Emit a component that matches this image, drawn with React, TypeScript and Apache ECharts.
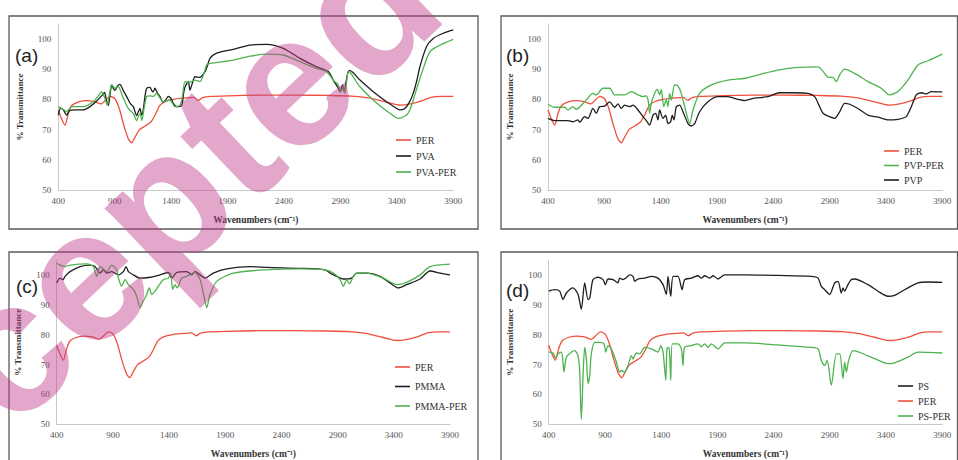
import React, { useEffect, useRef } from "react";
import * as echarts from "echarts";

type Pt = [number, number];

// Shared PER spectrum (same in all panels)
const perSpectrum: Pt[] = [[400,76.5],[430,73.5],[459,71.5],[490,75.5],[520,78],[580,79.2],[650,79.6],[720,79.3],[780,78.5],[820,79.8],[860,81],[900,80.3],[940,77],[980,71.5],[1020,67],[1050,65.6],[1080,67.5],[1120,70],[1170,71.2],[1220,72.5],[1260,75],[1300,78],[1350,79.3],[1420,80],[1500,80.4],[1600,80.7],[1640,79.7],[1680,80.6],[1750,81],[1900,81.2],[2200,81.4],[2500,81.4],[2800,81.3],[3000,81.1],[3150,80.5],[3300,79.2],[3430,78.1],[3520,78.5],[3620,79.5],[3700,80.7],[3800,81],[3900,81]];

const pvaSpectrum: Pt[] = [[400,74.8],[420,77],[445,76.5],[474,74.8],[500,76.3],[560,76.5],[620,76.5],[680,77.6],[740,79.5],[790,81.5],[810,82.3],[825,80],[843,78],[860,82],[873,84.8],[890,83.5],[902,83],[925,84.5],[946,85],[975,83],[1005,81],[1040,78.5],[1065,77.6],[1094,74.6],[1110,76],[1124,77],[1138,74.8],[1150,76],[1170,81.5],[1183,83.7],[1212,84],[1230,82.8],[1242,82.5],[1256,83.7],[1280,82],[1300,81],[1330,79],[1355,80],[1375,81],[1404,80],[1419,78.7],[1448,77.6],[1493,78],[1510,82],[1522,84],[1552,85.9],[1567,83],[1585,85],[1611,87.5],[1655,87.3],[1700,89.2],[1720,91],[1744,93.6],[1803,95.3],[1950,96.6],[2098,98],[2246,98.2],[2393,96.9],[2541,93.6],[2689,90.8],[2792,89.2],[2836,86.4],[2881,83.7],[2896,82.5],[2919,84.8],[2934,82.5],[2950,86],[2969,89.2],[2984,89.5],[3073,86.4],[3191,82.5],[3309,79.2],[3398,77],[3427,76.5],[3471,77],[3510,79],[3545,82],[3575,86],[3604,90.8],[3663,97.5],[3722,100.2],[3811,101.9],[3900,103]];

const pvaPerSpectrum: Pt[] = [[400,77.6],[430,77],[474,76],[518,77.6],[621,77.6],[710,79.2],[760,81.5],[784,82.6],[800,81.5],[813,80.4],[834,78.1],[855,82],[873,84.8],[902,83.7],[932,84.2],[955,82.5],[976,80.4],[1020,77],[1064,75.4],[1094,73],[1110,74.5],[1124,75.4],[1140,73],[1160,77],[1183,81],[1212,81.2],[1242,81],[1271,82],[1300,80.5],[1330,79.2],[1389,79.8],[1434,77.6],[1478,78.1],[1500,81],[1522,85.9],[1552,85.6],[1581,85.9],[1611,86.4],[1655,85.9],[1690,88.5],[1714,91.4],[1744,91.9],[1950,93],[2100,94.3],[2246,95],[2393,94.7],[2541,92.5],[2689,90.3],[2777,89.2],[2836,86.4],[2881,84.8],[2902,82.5],[2925,84.2],[2940,82],[2955,86],[2969,89.2],[2985,89],[3073,84.2],[3191,79.8],[3280,77],[3339,75.4],[3413,73.7],[3486,74.8],[3520,77],[3545,79.8],[3580,84],[3619,88.6],[3693,95.8],[3782,98],[3900,99.9]];

const pvpPerSpectrum: Pt[] = [[400,78.4],[459,77.4],[548,77.4],[577,76.5],[622,77.6],[651,76.7],[725,79.2],[799,82],[829,81.5],[888,83.7],[947,83.7],[992,81.5],[1080,81.5],[1140,82.6],[1199,81.5],[1243,80.9],[1270,81.2],[1288,79.8],[1302,75.4],[1317,78.7],[1347,82],[1370,83.3],[1391,81.5],[1406,83.3],[1427,77.6],[1450,79.8],[1465,77.6],[1480,82],[1495,79.8],[1524,84.8],[1554,84.4],[1583,82],[1628,75.4],[1658,72],[1687,76.5],[1746,82],[1850,84.8],[1998,86.4],[2146,87],[2293,88.4],[2441,89.7],[2589,90.5],[2796,90.8],[2856,88.6],[2885,87.3],[2930,87.3],[2959,85.9],[2989,88.1],[3033,90],[3122,88.6],[3240,85.9],[3358,83.7],[3432,81.5],[3506,82.6],[3595,86.4],[3684,91.4],[3773,92.8],[3900,95]];

const pvpSpectrum: Pt[] = [[400,73.7],[459,73],[577,73],[622,72.6],[666,73.2],[681,72.4],[725,74.3],[755,73.7],[799,77],[829,75.4],[858,77.6],[903,77.8],[947,79.2],[992,77.4],[1021,78.5],[1051,77],[1080,78.1],[1125,77.6],[1154,78.1],[1199,76.5],[1243,74.3],[1273,73],[1302,71.5],[1332,74.8],[1356,75.4],[1376,73.2],[1391,76.5],[1421,73.7],[1444,74.8],[1465,72],[1489,72.6],[1503,74.8],[1518,73.2],[1539,77.6],[1569,78.1],[1598,75.9],[1643,72],[1672,71.2],[1702,72],[1746,75.9],[1820,79.2],[1909,80.9],[1998,80.9],[2086,80],[2146,79.6],[2234,80.4],[2353,80.9],[2456,82.2],[2589,82.2],[2708,82],[2767,80.9],[2811,77.6],[2841,75.4],[2885,74.5],[2944,73.7],[2989,75.9],[3033,78.7],[3078,78.4],[3151,77],[3240,74.8],[3329,74.1],[3418,73.2],[3506,73.4],[3580,74.3],[3625,77.6],[3669,81.5],[3714,82.2],[3758,81.8],[3802,82.6],[3900,82.5]];

const pmmaSpectrum: Pt[] = [[400,97.5],[430,99.1],[455,98.5],[474,99.7],[519,101.3],[608,103],[697,103.5],[741,103],[786,100.8],[815,101.9],[845,100.8],[889,101.3],[949,100.2],[993,101.3],[1017,103],[1038,101.3],[1082,100.2],[1142,99.1],[1231,99.4],[1320,100.2],[1394,101],[1423,99.1],[1468,101],[1557,101.3],[1601,100.2],[1631,101.3],[1676,100.2],[1720,99.1],[1794,100.8],[1913,102.2],[2121,103],[2269,102.7],[2566,102.4],[2788,101.9],[2833,100.8],[2892,99.7],[2951,98.8],[3025,99.1],[3070,100.8],[3159,100.8],[3277,99.7],[3366,97.5],[3441,95.8],[3515,96.9],[3634,98.8],[3722,101.5],[3811,100.8],[3900,100.2]];

const pmmaPerSpectrum: Pt[] = [[400,104.1],[430,103.5],[474,103],[519,103.5],[667,103.9],[726,103],[756,99.7],[786,103],[845,101.3],[889,103.5],[934,101.9],[949,99.1],[978,96.4],[1008,98.6],[1038,96.9],[1082,95.3],[1112,93],[1142,89.2],[1171,91.4],[1201,93.6],[1225,95.8],[1245,93.6],[1275,94.7],[1314,96.9],[1349,98.6],[1394,99.1],[1415,100.8],[1432,95.3],[1453,96.9],[1474,95.8],[1512,99.1],[1557,99.7],[1631,101],[1676,98.6],[1711,93],[1735,89.2],[1765,93.6],[1824,98],[1972,100.8],[2269,101.9],[2566,102.2],[2788,101.9],[2862,100.8],[2922,98.6],[2951,96.4],[2981,98.6],[3005,97.2],[3040,99.7],[3070,100.8],[3159,100.8],[3307,99.1],[3426,96.9],[3515,97.7],[3634,100.2],[3722,103],[3900,103.8]];

const psSpectrum: Pt[] = [[400,94.7],[453,95.2],[498,94.7],[527,91.9],[557,94.1],[616,95.8],[661,93.6],[690,88.6],[720,97.5],[750,91.9],[765,92.4],[794,98.6],[839,99.4],[883,98.6],[904,96.9],[928,98.8],[972,98.6],[1016,97.5],[1031,99.1],[1061,98.6],[1091,99.3],[1120,100.2],[1150,99.7],[1165,98],[1194,98.8],[1254,99.1],[1313,99.7],[1372,99.1],[1417,96.9],[1446,93.6],[1461,99.7],[1485,93],[1506,99.7],[1550,99.7],[1586,95.2],[1609,98.6],[1669,99.1],[1728,99.9],[1757,99.1],[1787,99.9],[1832,99.1],[1861,99.9],[1906,98.8],[1965,100.2],[2143,100.2],[2439,100],[2735,99.7],[2795,99.1],[2824,96.3],[2854,95.2],[2898,93.6],[2943,97.5],[2973,98],[3002,94.1],[3017,95.8],[3032,94.7],[3061,96.9],[3091,98.6],[3121,98.8],[3239,96.9],[3328,94.7],[3417,93],[3476,93.3],[3565,95.2],[3684,97.5],[3773,97.8],[3900,97.7]];

const psPerSpectrum: Pt[] = [[400,74.2],[439,73.9],[459,72.2],[483,73.6],[513,74.2],[527,70.8],[536,67.5],[557,72.5],[602,74.2],[631,74.7],[661,73],[676,67.5],[690,51.5],[708,68.6],[720,75.8],[735,72],[750,63.6],[765,66.4],[779,73.6],[809,77.5],[853,77.5],[892,77],[907,74.2],[928,76.4],[957,75.3],[1002,70.8],[1031,67.5],[1046,68],[1076,67.5],[1105,69.7],[1135,73],[1150,71.9],[1179,73.9],[1209,73.6],[1254,75.8],[1313,75.3],[1372,74.2],[1396,76.4],[1417,74.2],[1441,64.7],[1452,75.3],[1470,75.8],[1485,64.7],[1500,77],[1550,77],[1580,75.3],[1594,69.7],[1609,75.8],[1669,76.4],[1728,77],[1757,76],[1787,77],[1817,75.8],[1846,77],[1906,75.3],[1965,77.3],[2143,77.3],[2439,76.6],[2735,75.8],[2795,75.3],[2824,71.4],[2854,69.7],[2877,71.4],[2913,63],[2958,73.6],[2988,73.6],[3017,65.3],[3032,70.8],[3047,67.5],[3067,71.4],[3106,74.7],[3180,73.9],[3299,72],[3417,70.3],[3476,70.6],[3595,72.5],[3684,74.2],[3900,73.9]];

const panelLabels = ["(a)", "(b)", "(c)", "(d)"];
const legendNames = [
  ["PER", "PVA", "PVA-PER"],
  ["PER", "PVP-PER", "PVP"],
  ["PER", "PMMA", "PMMA-PER"],
  ["PS", "PER", "PS-PER"],
];
const xTitle = "Wavenumbers (cm\u207B\u00B9)";
const yTitle = "% Transmittance";
const watermarkText = "Accepted";

const RED = "#ef4f3c";
const BLACK = "#1e1e1e";
const GREEN = "#4db34f";

export default function App() {
  const ref = useRef<HTMLDivElement>(null);
  useEffect(() => {
    if (!ref.current) return;
    const chart = echarts.init(ref.current, null, { renderer: "svg" });
    const grids = [
      { left: 58.3, top: 23.9, width: 395, height: 166.1 },
      { left: 548, top: 23.9, width: 394.3, height: 166.1 },
      { left: 56.7, top: 260.6, width: 393.3, height: 166.1 },
      { left: 548.7, top: 260.6, width: 393.6, height: 165.4 },
    ];
    const serif = '"Liberation Serif", "Times New Roman", serif';
    const xAxis = grids.map((_, i) => ({
      gridIndex: i, type: "value", min: 400, max: 3900, interval: 500,
      axisLine: { show: true, lineStyle: { color: "#c8c8c8", width: 1 } },
      axisTick: { show: false }, splitLine: { show: false },
      axisLabel: { fontFamily: serif, fontSize: 9, color: "#555", margin: 6, formatter: (v: number) => String(v) },
      name: xTitle, nameLocation: "middle", nameGap: 25,
      nameTextStyle: { fontFamily: serif, fontSize: 9.5, fontWeight: "bold", color: "#333" },
    }));
    const yAxis = grids.map((_, i) => ({
      gridIndex: i, type: "value", min: 50, max: 105, interval: 10,
      axisLine: { show: true, lineStyle: { color: "#c8c8c8", width: 1 } },
      axisTick: { show: false }, splitLine: { show: false },
      axisLabel: { fontFamily: serif, fontSize: 9, color: "#555", margin: 7, showMaxLabel: false, formatter: (v: number) => String(v) },
      name: yTitle, nameLocation: "middle", nameGap: 34,
      nameTextStyle: { fontFamily: serif, fontSize: 9, fontWeight: "bold", color: "#333" },
    }));
    const mk = (name: string, data: Pt[], color: string, idx: number) => ({
      name, type: "line", xAxisIndex: idx, yAxisIndex: idx, data,
      showSymbol: false, smooth: 0.25, z: 3,
      lineStyle: { color, width: 1.3 }, itemStyle: { color },
    });
    const series = [
      mk("PER", perSpectrum, RED, 0),
      mk("PVA", pvaSpectrum, BLACK, 0),
      mk("PVA-PER", pvaPerSpectrum, GREEN, 0),
      mk("PER", perSpectrum, RED, 1),
      mk("PVP-PER", pvpPerSpectrum, GREEN, 1),
      mk("PVP", pvpSpectrum, BLACK, 1),
      mk("PER", perSpectrum, RED, 2),
      mk("PMMA", pmmaSpectrum, BLACK, 2),
      mk("PMMA-PER", pmmaPerSpectrum, GREEN, 2),
      mk("PS", psSpectrum, BLACK, 3),
      mk("PER", perSpectrum, RED, 3),
      mk("PS-PER", psPerSpectrum, GREEN, 3),
    ];
    const legendPos = [
      { left: 391, top: 129, itemGap: 4 },
      { left: 879, top: 140, itemGap: 2.5 },
      { left: 390, top: 356, itemGap: 7.5 },
      { left: 893, top: 375, itemGap: 3 },
    ];
    const legend = legendNames.map((names, i) => ({
      data: names, orient: "vertical", left: legendPos[i].left, top: legendPos[i].top,
      itemGap: legendPos[i].itemGap, itemWidth: 15, itemHeight: 1.6, icon: "rect",
      textStyle: { fontFamily: serif, fontSize: 10, color: "#333", lineHeight: 12 },
      selectedMode: false,
    }));
    const borders = [
      { x: 9, y: 16, w: 469, h: 213 },
      { x: 501, y: 16, w: 456.5, h: 213 },
      { x: 9, y: 252, w: 469, h: 230 },
      { x: 501, y: 252, w: 456.5, h: 230 },
    ];
    const labelPos = [[15, 55], [506, 55], [16, 286], [506, 290]];
    const graphic: any[] = [];
    borders.forEach((b) => graphic.push({
      type: "rect", shape: { x: b.x, y: b.y, width: b.w, height: b.h }, z: 0, silent: true,
      style: { fill: "none", stroke: "#5a5a5a", lineWidth: 1.3 },
    }));
    panelLabels.forEach((t, i) => graphic.push({
      type: "text", x: labelPos[i][0], y: labelPos[i][1], z: 5,
      style: { text: t, fill: "#222", font: '19px "Liberation Sans", Arial, sans-serif', textVerticalAlign: "middle" },
    }));
    graphic.push({
      type: "text", x: 100, y: 260, rotation: 0.76, z: 100, silent: true,
      style: {
        text: watermarkText, fill: "rgba(190,60,140,0.45)",
        font: 'bold 188px "Liberation Sans", Arial, sans-serif',
        textAlign: "center", textVerticalAlign: "middle",
      },
    });
    chart.setOption({
      animation: false, backgroundColor: "#fff",
      grid: grids, xAxis, yAxis, series, legend, graphic,
    });
    return () => chart.dispose();
  }, []);
  return <div ref={ref} style={{ position: "absolute", left: 0, top: 0, width: 958, height: 460 }} />;
}
